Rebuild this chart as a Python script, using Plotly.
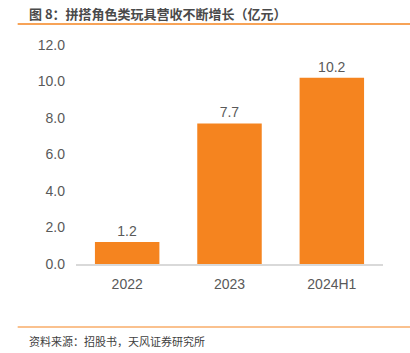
import plotly.graph_objects as go

categories = ["2022", "2023", "2024H1"]
values = [1.2, 7.7, 10.2]
value_labels = ["1.2", "7.7", "10.2"]
title_text = "图 8：拼搭角色类玩具营收不断增长（亿元）"
source_text = "资料来源：招股书，天风证券研究所"

font_family = "Liberation Sans, Noto Sans CJK SC, sans-serif"

fig = go.Figure()
fig.add_trace(go.Bar(
    x=categories, y=values,
    marker=dict(color="#F5841F", line=dict(width=0)),
    width=0.63,
    text=value_labels, textposition="outside",
    textfont=dict(size=14, color="#595959", family=font_family),
    cliponaxis=False,
))

fig.update_layout(
    width=410, height=353,
    margin=dict(l=76, r=27, t=45, b=89),
    paper_bgcolor="white", plot_bgcolor="white",
    showlegend=False,
    font=dict(family=font_family, color="#595959", size=14),
    xaxis=dict(showgrid=False, showline=True, linecolor="#D9D9D9", linewidth=1.5,
               ticks="", tickfont=dict(size=14, color="#595959"), ticklabelstandoff=6),
    yaxis=dict(range=[0, 12], dtick=2, tickformat=".1f", showgrid=False,
               showline=False, zeroline=False, ticks="",
               tickfont=dict(size=14, color="#595959"), ticklabelstandoff=10),
    shapes=[
        dict(type="line", xref="paper", yref="paper", x0=-0.19, x1=1.09,
             y0=(353 - 24 - 89) / 219, y1=(353 - 24 - 89) / 219,
             line=dict(color="#F5841F", width=1.5)),
        dict(type="line", xref="paper", yref="paper", x0=-0.19, x1=1.09,
             y0=(353 - 327 - 89) / 219, y1=(353 - 327 - 89) / 219,
             line=dict(color="#F5841F", width=1.2)),
    ],
    annotations=[
        dict(text="<b>" + title_text + "</b>", xref="paper", yref="paper",
             x=(27 - 76) / 307, y=(353 - 13 - 89) / 219, xanchor="left", yanchor="middle",
             showarrow=False, font=dict(size=13, color="#4a4a4a", family="Noto Sans CJK SC")),
        dict(text=source_text, xref="paper", yref="paper",
             x=(27 - 76) / 307, y=(353 - 341 - 89) / 219, xanchor="left", yanchor="middle",
             showarrow=False, font=dict(size=11, color="#404040", family="Noto Sans CJK SC")),
    ],
)

fig.write_html("out.html")
